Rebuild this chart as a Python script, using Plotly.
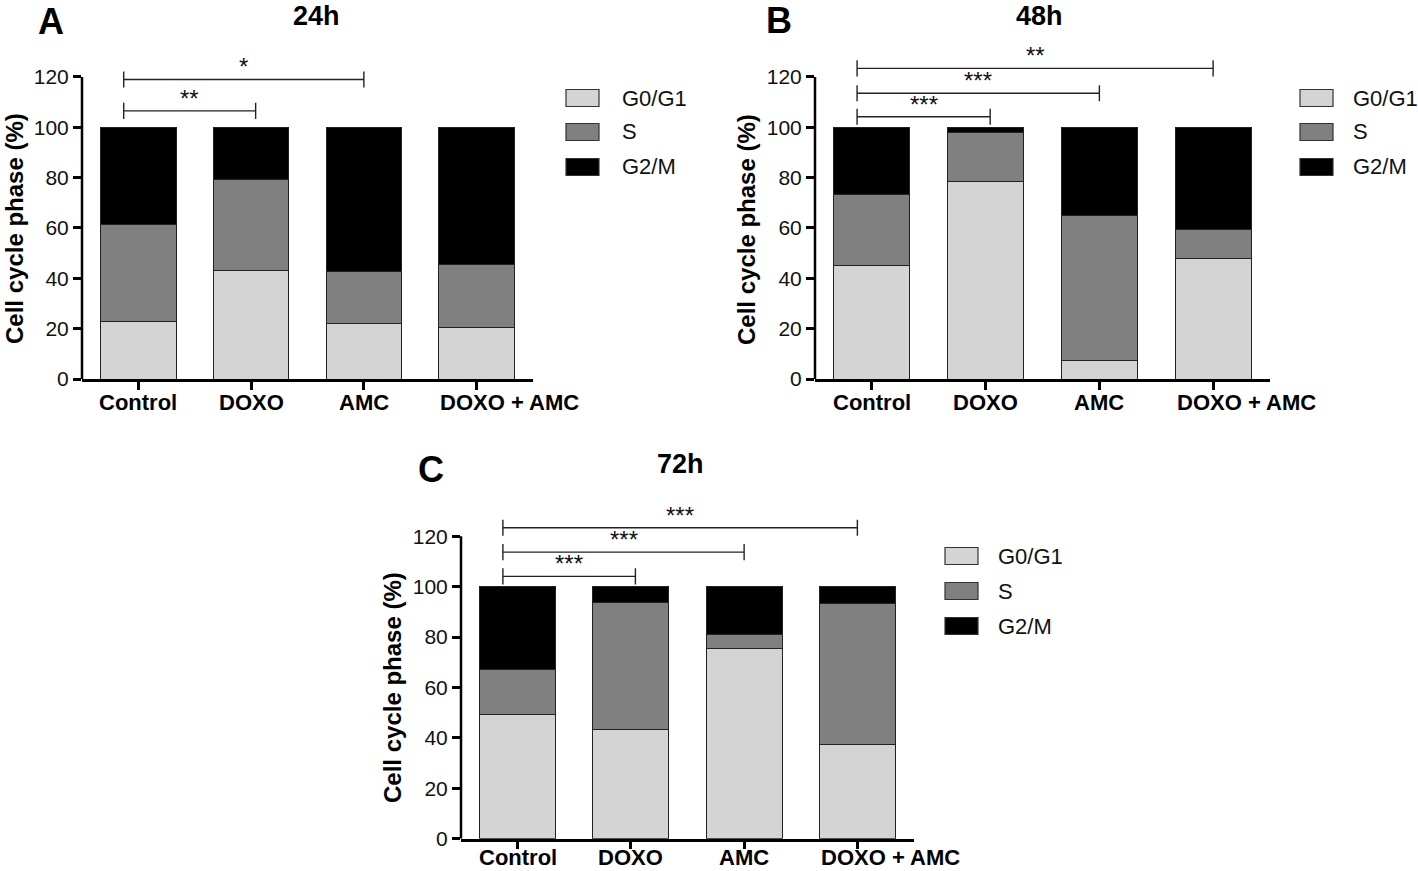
import plotly.graph_objects as go

# ---------------- data ----------------
categories = ["Control", "DOXO", "AMC", "DOXO + AMC"]
phases = ["G0/G1", "S", "G2/M"]

g0g1_24h = [23.0, 43.2, 22.2, 20.6]
s_24h = [38.4, 36.2, 20.6, 24.9]
g2m_24h = [38.6, 20.6, 57.2, 54.5]

g0g1_48h = [45.2, 78.6, 7.3, 48.0]
s_48h = [27.9, 19.5, 57.5, 11.2]
g2m_48h = [26.9, 1.9, 35.2, 40.8]

g0g1_72h = [49.1, 43.4, 75.3, 37.5]
s_72h = [18.2, 50.2, 5.6, 56.0]
g2m_72h = [32.7, 6.4, 19.1, 6.5]

# significance brackets: (from index, to index, height, label)
sig_24h = [(0, 1, 106.5, "**"), (0, 2, 119.0, "*")]
sig_48h = [(0, 1, 104.2, "***"), (0, 2, 113.5, "***"), (0, 3, 123.4, "**")]
sig_72h = [(0, 1, 104.1, "***"), (0, 2, 113.7, "***"), (0, 3, 123.4, "***")]

y_ticks = [0, 20, 40, 60, 80, 100, 120]
panel_titles = ["24h", "48h", "72h"]
panel_letters = ["A", "B", "C"]

# ---------------- layout helpers ----------------
W, H = 1418, 871
FONT = "Liberation Sans, Arial, sans-serif"
colors = ["#d4d4d4", "#808080", "#000000"]
# horizontal offset (px) of each category label from its tick, as in the original
label_shift = [0, 0, 0, 33]


def px(x):
    return x / W


def py(y):
    return 1 - y / H


panels = [
    dict(data=[g0g1_24h, s_24h, g2m_24h], sig=sig_24h,
         xdom=(82, 533), ydom=(56.8, 379), letter=(51, 22), title=(316, 16),
         ytitle=(14, 229), leg_sw=566, leg_tx=620, leg_y=[98, 132, 167], lab_dy=-23),
    dict(data=[g0g1_48h, s_48h, g2m_48h], sig=sig_48h,
         xdom=(815, 1270), ydom=(56.8, 379), letter=(779, 21), title=(1039, 16),
         ytitle=(746, 229), leg_sw=1300, leg_tx=1351, leg_y=[98, 132, 167], lab_dy=-23),
    dict(data=[g0g1_72h, s_72h, g2m_72h], sig=sig_72h,
         xdom=(461, 914), ydom=(516.1, 838.7), letter=(431, 469), title=(680, 464),
         ytitle=(392, 688), leg_sw=945, leg_tx=996, leg_y=[556, 591, 626], lab_dy=-19),
]

fig = go.Figure()
shapes = []
annotations = []
layout = dict(
    width=W, height=H, margin=dict(l=0, r=0, t=0, b=0, autoexpand=False),
    paper_bgcolor="white", plot_bgcolor="white",
    barmode="stack", showlegend=False,
    font=dict(family=FONT, color="#111111"),
)

for i, p in enumerate(panels):
    n = "" if i == 0 else str(i + 1)
    xa, ya = "x" + n, "y" + n
    for k, (vals, name) in enumerate(zip(p["data"], phases)):
        fig.add_trace(go.Bar(
            x=categories, y=vals, name=name, xaxis=xa, yaxis=ya,
            marker=dict(color=colors[k], line=dict(color="#222222", width=1)),
            width=0.67,
        ))
    layout["xaxis" + n] = dict(
        domain=[px(p["xdom"][0]), px(p["xdom"][1])], anchor=ya,
        type="category", categoryorder="array", categoryarray=categories,
        showticklabels=False, automargin=False,
        range=[-0.5, 3.5], showline=True, linecolor="black", linewidth=2.5,
        ticks="outside", ticklen=8, tickwidth=2.5, tickcolor="black",
        showgrid=False, zeroline=False,
    )
    layout["yaxis" + n] = dict(
        domain=[py(p["ydom"][1]), py(p["ydom"][0])], anchor=xa,
        range=[0, 128], tickvals=y_ticks, showline=False, automargin=False,
        ticks="outside", ticklen=8, tickwidth=2.5, tickcolor="black",
        showgrid=False, zeroline=False,
        tickfont=dict(family=FONT, size=21, color="#111111"),
    )
    # category labels
    for j, cat in enumerate(categories):
        annotations.append(dict(xref=xa, yref=ya + " domain", x=cat, y=0,
                                text=cat, showarrow=False,
                                xanchor="center", yanchor="middle",
                                xshift=label_shift[j], yshift=p["lab_dy"],
                                font=dict(family=FONT, size=22, color="black",
                                          weight="bold")))
    # y axis line only up to 120
    shapes.append(dict(type="line", xref=xa + " domain", yref=ya,
                       x0=0, x1=0, y0=0, y1=y_ticks[-1],
                       line=dict(color="black", width=2.5)))
    # significance brackets
    for (a, b, h, lab) in p["sig"]:
        xl = a - 0.13
        xr = b + (0.04 if b == 1 else 0.0)
        shapes.append(dict(type="line", xref=xa, yref=ya, x0=xl, x1=xr, y0=h, y1=h,
                           line=dict(color="#222222", width=1.4)))
        for xe in (xl, xr):
            shapes.append(dict(type="line", xref=xa, yref=ya, x0=xe, x1=xe,
                               y0=h - 3.2, y1=h + 3.2,
                               line=dict(color="#222222", width=1.4)))
        annotations.append(dict(xref=xa, yref=ya, x=(xl + xr) / 2, y=h, text=lab,
                                showarrow=False, yanchor="bottom", yshift=-3,
                                font=dict(family=FONT, size=24, color="#111111")))
    # panel letter and title
    annotations.append(dict(xref="paper", yref="paper", x=px(p["letter"][0]),
                            y=py(p["letter"][1]), text=panel_letters[i],
                            showarrow=False, xanchor="center", yanchor="middle",
                            font=dict(family=FONT, size=36, color="black", weight="bold")))
    annotations.append(dict(xref="paper", yref="paper", x=px(p["title"][0]),
                            y=py(p["title"][1]), text=panel_titles[i],
                            showarrow=False, xanchor="center", yanchor="middle",
                            font=dict(family=FONT, size=27, color="black", weight="bold")))
    # y axis title
    annotations.append(dict(xref="paper", yref="paper", x=px(p["ytitle"][0]),
                            y=py(p["ytitle"][1]), text="Cell cycle phase (%)",
                            textangle=-90, showarrow=False,
                            xanchor="center", yanchor="middle",
                            font=dict(family=FONT, size=24, color="black", weight="bold")))
    # legend
    for k, name in enumerate(phases):
        yc = p["leg_y"][k]
        shapes.append(dict(type="rect", xref="paper", yref="paper",
                           x0=px(p["leg_sw"]), x1=px(p["leg_sw"] + 33),
                           y0=py(yc + 8.5), y1=py(yc - 8.5),
                           fillcolor=colors[k], line=dict(color="#333333", width=1.2)))
        annotations.append(dict(xref="paper", yref="paper", x=px(p["leg_tx"]),
                                y=py(yc), text=name, showarrow=False,
                                xanchor="left", yanchor="middle",
                                font=dict(family=FONT, size=22, color="#111111")))

layout["shapes"] = shapes
layout["annotations"] = annotations
fig.update_layout(**layout)
fig.write_html(
    "out.html",
    config={"displayModeBar": False},
    post_script="document.body.style.margin='0px';document.body.style.overflow='hidden';",
)
